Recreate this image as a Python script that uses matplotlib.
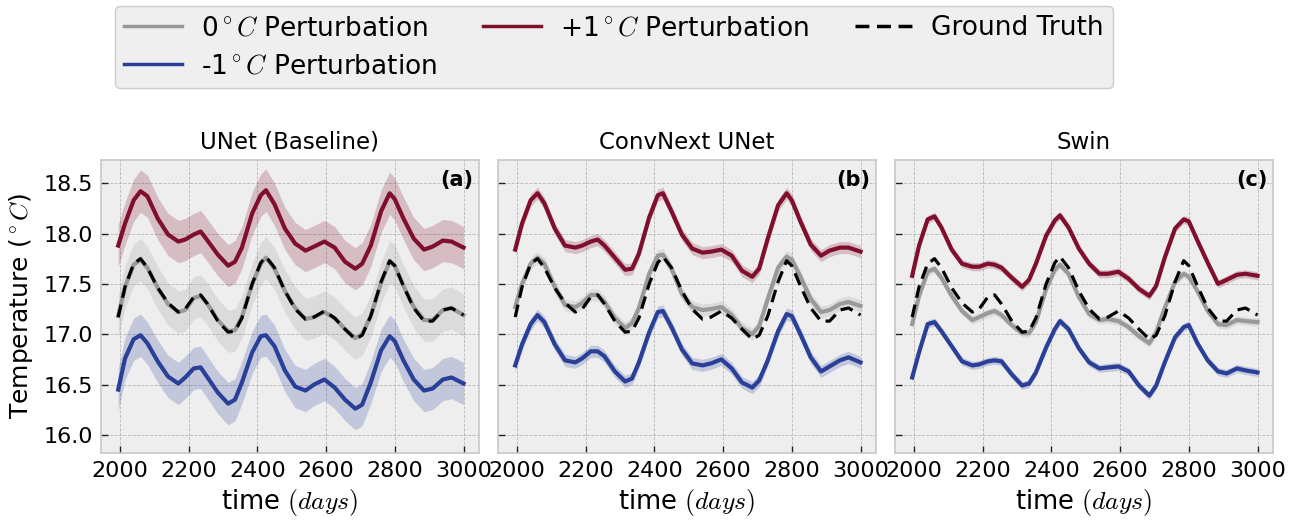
import matplotlib
matplotlib.use("Agg")
import matplotlib.pyplot as plt
import numpy as np

# ── data ─────────────────────────────────────────────────
DAYS = [1995, 2015, 2040, 2060, 2080, 2110, 2140, 2170, 2190, 2215,
        2235, 2255, 2285, 2315, 2335, 2355, 2385, 2410, 2425, 2450,
        2480, 2510, 2540, 2565, 2595, 2625, 2655, 2685, 2705, 2730,
        2760, 2785, 2800, 2825, 2855, 2885, 2910, 2940, 2965, 3000]

GROUND_TRUTH = [17.17, 17.47, 17.70, 17.75, 17.66, 17.46, 17.31, 17.22, 17.25, 17.37,
                17.39, 17.30, 17.13, 17.02, 17.03, 17.16, 17.50, 17.71, 17.77, 17.66,
                17.43, 17.25, 17.15, 17.17, 17.23, 17.16, 17.05, 16.95, 16.99, 17.18,
                17.52, 17.73, 17.68, 17.48, 17.26, 17.13, 17.13, 17.24, 17.26, 17.19]

# UNet (Baseline)
UNET_ZERO = [17.18, 17.47, 17.69, 17.74, 17.66, 17.46, 17.30, 17.22, 17.24, 17.36,
             17.38, 17.30, 17.14, 17.03, 17.04, 17.17, 17.50, 17.70, 17.76, 17.65,
             17.43, 17.26, 17.15, 17.17, 17.22, 17.16, 17.05, 16.96, 17.00, 17.18,
             17.51, 17.72, 17.68, 17.48, 17.27, 17.14, 17.14, 17.24, 17.26, 17.19]
UNET_PLUS = [17.88, 18.10, 18.33, 18.42, 18.37, 18.15, 17.99, 17.92, 17.94, 17.99,
             18.02, 17.93, 17.79, 17.68, 17.72, 17.86, 18.20, 18.38, 18.43, 18.29,
             18.05, 17.90, 17.83, 17.87, 17.92, 17.86, 17.72, 17.65, 17.70, 17.88,
             18.22, 18.40, 18.34, 18.15, 17.95, 17.84, 17.87, 17.93, 17.92, 17.86]
UNET_MINUS = [16.45, 16.76, 16.95, 16.99, 16.91, 16.73, 16.58, 16.51, 16.57, 16.66,
              16.67, 16.57, 16.42, 16.31, 16.35, 16.52, 16.82, 16.98, 16.99, 16.88,
              16.64, 16.48, 16.44, 16.50, 16.55, 16.47, 16.35, 16.26, 16.30, 16.52,
              16.84, 16.98, 16.93, 16.74, 16.55, 16.44, 16.46, 16.55, 16.57, 16.51]

# ConvNext UNet
CONVNEXT_ZERO = [17.27, 17.50, 17.70, 17.76, 17.70, 17.47, 17.29, 17.27, 17.31, 17.39,
                 17.39, 17.32, 17.16, 17.06, 17.11, 17.26, 17.60, 17.78, 17.79, 17.65,
                 17.40, 17.27, 17.24, 17.25, 17.27, 17.19, 17.06, 17.00, 17.08, 17.35,
                 17.66, 17.77, 17.74, 17.57, 17.35, 17.22, 17.24, 17.30, 17.32, 17.28]
CONVNEXT_PLUS = [17.84, 18.10, 18.33, 18.40, 18.30, 18.05, 17.88, 17.86, 17.88, 17.92,
                 17.94, 17.88, 17.76, 17.64, 17.65, 17.80, 18.16, 18.38, 18.40, 18.22,
                 17.99, 17.85, 17.81, 17.82, 17.84, 17.78, 17.63, 17.57, 17.65, 17.95,
                 18.28, 18.40, 18.33, 18.12, 17.89, 17.78, 17.83, 17.86, 17.86, 17.82]
CONVNEXT_MINUS = [16.69, 16.90, 17.10, 17.19, 17.12, 16.90, 16.74, 16.72, 16.76, 16.83,
                  16.83, 16.78, 16.63, 16.53, 16.56, 16.72, 17.02, 17.22, 17.23, 17.07,
                  16.85, 16.71, 16.69, 16.71, 16.75, 16.66, 16.52, 16.47, 16.54, 16.74,
                  17.03, 17.20, 17.18, 17.00, 16.77, 16.63, 16.68, 16.74, 16.77, 16.72]

# Swin
SWIN_ZERO = [17.10, 17.38, 17.62, 17.65, 17.56, 17.38, 17.23, 17.14, 17.17, 17.21,
             17.23, 17.19, 17.09, 17.01, 17.01, 17.12, 17.45, 17.64, 17.69, 17.60,
             17.37, 17.20, 17.14, 17.15, 17.13, 17.07, 16.98, 16.91, 17.02, 17.26,
             17.52, 17.60, 17.57, 17.43, 17.23, 17.10, 17.09, 17.14, 17.13, 17.12]
SWIN_PLUS = [17.58, 17.88, 18.14, 18.17, 18.06, 17.84, 17.70, 17.67, 17.67, 17.70,
             17.69, 17.66, 17.56, 17.47, 17.54, 17.70, 17.98, 18.13, 18.18, 18.06,
             17.85, 17.70, 17.60, 17.60, 17.62, 17.55, 17.45, 17.38, 17.48, 17.76,
             18.05, 18.14, 18.12, 17.93, 17.71, 17.50, 17.54, 17.59, 17.60, 17.58]
SWIN_MINUS = [16.57, 16.82, 17.10, 17.12, 17.03, 16.88, 16.73, 16.69, 16.70, 16.73,
              16.74, 16.73, 16.60, 16.49, 16.51, 16.62, 16.87, 17.05, 17.13, 17.05,
              16.86, 16.72, 16.66, 16.67, 16.68, 16.63, 16.49, 16.39, 16.49, 16.72,
              16.97, 17.07, 17.09, 16.91, 16.74, 16.63, 16.61, 16.66, 16.64, 16.62]

# half-width of the shaded spread around each perturbation run
UNET_SPREAD = 0.21
CONVNEXT_SPREAD = 0.06
SWIN_SPREAD = 0.04

MODEL_TITLES = ["UNet (Baseline)", "ConvNext UNet", "Swin"]
PANEL_TAGS = ["(a)", "(b)", "(c)"]
X_TICKS = [2000, 2200, 2400, 2600, 2800, 3000]
Y_TICKS = [16.0, 16.5, 17.0, 17.5, 18.0, 18.5]

COLOR_ZERO = "#999999"
COLOR_PLUS = "#7f0f2d"
COLOR_MINUS = "#2a3f98"

plt.rcParams["font.family"] = ["DejaVu Sans"]
plt.rcParams["mathtext.fontset"] = "cm"


def style_axis(ax):
    ax.set_facecolor("#eeeeee")
    for sp in ax.spines.values():
        sp.set_color("#c8c8c8")
        sp.set_linewidth(1.2)
    ax.grid(True, color="#b8b8b8", linestyle="--", linewidth=0.6)
    ax.set_axisbelow(True)
    ax.tick_params(direction="in", length=5, width=1, color="#222222",
                   labelsize=16, pad=6)


def draw():
    fig = plt.figure(figsize=(12.94, 5.22), dpi=100)
    fig.patch.set_facecolor("white")

    lefts = [101 / 1294, 498 / 1294, 895 / 1294]
    width = 378 / 1294
    bottom = 69 / 522
    height = 293 / 522

    runs = [
        (UNET_ZERO, UNET_PLUS, UNET_MINUS, UNET_SPREAD),
        (CONVNEXT_ZERO, CONVNEXT_PLUS, CONVNEXT_MINUS, CONVNEXT_SPREAD),
        (SWIN_ZERO, SWIN_PLUS, SWIN_MINUS, SWIN_SPREAD),
    ]

    days = np.array(DAYS)
    handles = None
    for i, (zero, plus, minus, spread) in enumerate(runs):
        ax = fig.add_axes([lefts[i], bottom, width, height])
        style_axis(ax)

        hs = {}
        for vals, col, key in [(zero, COLOR_ZERO, "zero"),
                               (plus, COLOR_PLUS, "plus"),
                               (minus, COLOR_MINUS, "minus")]:
            v = np.array(vals)
            ax.fill_between(days, v - spread, v + spread, color=col,
                            alpha=0.22, linewidth=0)
            hs[key], = ax.plot(days, v, color=col, linewidth=3.0)
        hs["gt"], = ax.plot(days, GROUND_TRUTH, color="black", linestyle="--",
                            linewidth=2.3, dashes=(4, 2.2))
        handles = hs

        ax.set_xlim(1945, 3045)
        ax.set_ylim(15.82, 18.73)
        ax.set_xticks(X_TICKS)
        ax.set_yticks(Y_TICKS)
        if i == 0:
            ax.set_ylabel(r"Temperature ($^\circ C$)", fontsize=18, labelpad=6)
        else:
            ax.set_yticklabels([])
        ax.set_xlabel(r"time $(days)$", fontsize=18.5, labelpad=4)
        ax.set_title(MODEL_TITLES[i], fontsize=16.5, pad=8)
        ax.text(0.985, 0.965, PANEL_TAGS[i], transform=ax.transAxes,
                ha="right", va="top", fontsize=15, fontweight="bold")

    leg = fig.legend(
        [handles["zero"], handles["minus"], handles["plus"], handles["gt"]],
        [r"0$^\circ C$ Perturbation", r"-1$^\circ C$ Perturbation",
         r"+1$^\circ C$ Perturbation", "Ground Truth"],
        ncol=3, loc="upper left", bbox_to_anchor=(115 / 1294, 1 - 6 / 522),
        fontsize=19, frameon=True, fancybox=True, facecolor="#efefef",
        edgecolor="#cccccc", borderaxespad=0, columnspacing=1.75,
        handlelength=2.2, handletextpad=0.7, labelspacing=0.45, borderpad=0.35)
    leg.get_frame().set_alpha(1)
    for h in leg.legend_handles:
        h.set_linewidth(2.5)

    fig.savefig("out.png", dpi=100)
    plt.close(fig)


if __name__ == "__main__":
    draw()
